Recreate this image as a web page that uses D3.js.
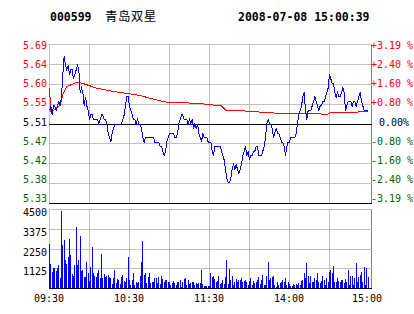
<!DOCTYPE html>
<html>
<head>
<meta charset="utf-8">
<script src="https://cdn.jsdelivr.net/npm/d3@7"></script>
<style>
  body { margin: 0; background: #fff; }
  svg { display: block; }
  text { font-family: "DejaVu Sans Mono", monospace; font-size: 10px; }
</style>
</head>
<body>
<svg id="chart"></svg>
<script>
// header
const stockCode = "000599";
const stockName = "青岛双星";
const stamp = "2008-07-08 15:00:39";

// axis labels
const prevClose = 5.51;
const pctStep = 0.008;
const priceLabels = ["5.69", "5.64", "5.60", "5.55", "5.51", "5.47", "5.42", "5.38", "5.33"];
const pctLabels = ["+3.19 %", "+2.40 %", "+1.60 %", "+0.80 %", "0.00%", "-0.80 %", "-1.60 %", "-2.40 %", "-3.19 %"];
const volTicks = [4500, 3375, 2250, 1125];
const timeMinutes = [0, 60, 120, 180, 240];
const timeLabels = ["09:30", "10:30", "11:30", "14:00", "15:00"];

// minute prices, 09:30 .. 15:00
const prices = [
  5.54, 5.55, 5.53, 5.55, 5.55, 5.54, 5.55, 5.56, 5.55, 5.57,
  5.62, 5.66, 5.64, 5.63, 5.64, 5.62, 5.63, 5.63, 5.61, 5.62,
  5.63, 5.64, 5.63, 5.58, 5.59, 5.58, 5.55, 5.57, 5.55, 5.54,
  5.52, 5.53, 5.53, 5.52, 5.52, 5.52, 5.52, 5.51, 5.52, 5.53,
  5.53, 5.52, 5.52, 5.51, 5.49, 5.48, 5.47, 5.49, 5.50, 5.51,
  5.51, 5.51, 5.51, 5.51, 5.51, 5.52, 5.53, 5.55, 5.57, 5.57,
  5.55, 5.54, 5.53, 5.52, 5.52, 5.51, 5.52, 5.51, 5.51, 5.50,
  5.48, 5.47, 5.48, 5.48, 5.48, 5.48, 5.48, 5.48, 5.48, 5.47,
  5.47, 5.47, 5.47, 5.46, 5.46, 5.45, 5.44, 5.45, 5.47, 5.48,
  5.49, 5.49, 5.49, 5.49, 5.48, 5.48, 5.49, 5.51, 5.52, 5.53,
  5.53, 5.52, 5.52, 5.52, 5.51, 5.52, 5.51, 5.52, 5.50, 5.51,
  5.50, 5.51, 5.49, 5.48, 5.47, 5.49, 5.48, 5.48, 5.48, 5.47,
  5.47, 5.47, 5.45, 5.44, 5.46, 5.46, 5.46, 5.46, 5.46, 5.45,
  5.44, 5.43, 5.41, 5.39, 5.38, 5.38, 5.39, 5.41, 5.42, 5.41,
  5.42, 5.41, 5.40, 5.41, 5.42, 5.44, 5.45, 5.46, 5.44, 5.45,
  5.43, 5.44, 5.44, 5.45, 5.45, 5.46, 5.46, 5.44, 5.44, 5.44,
  5.45, 5.46, 5.48, 5.51, 5.52, 5.51, 5.51, 5.50, 5.48, 5.49,
  5.50, 5.49, 5.49, 5.48, 5.47, 5.47, 5.46, 5.44, 5.46, 5.47,
  5.47, 5.48, 5.48, 5.48, 5.48, 5.49, 5.51, 5.53, 5.54, 5.55,
  5.57, 5.58, 5.54, 5.52, 5.54, 5.54, 5.54, 5.55, 5.56, 5.57,
  5.56, 5.55, 5.54, 5.55, 5.55, 5.56, 5.56, 5.57, 5.58, 5.59,
  5.62, 5.61, 5.60, 5.60, 5.58, 5.57, 5.58, 5.57, 5.57, 5.58,
  5.59, 5.58, 5.54, 5.55, 5.56, 5.56, 5.56, 5.55, 5.56, 5.56,
  5.55, 5.56, 5.57, 5.58, 5.56, 5.55, 5.54, 5.54, 5.54, 5.54
];

// average price line, read at its turning points
const avgMinutes = [0, 1, 4, 8, 10, 13, 17, 21, 25, 36, 48, 58, 68, 82, 89, 111, 120, 129, 132, 141, 165, 176, 209, 211, 220, 239];
const avgPrices = [5.59, 5.538, 5.542, 5.552, 5.575, 5.593, 5.598, 5.603, 5.600, 5.589, 5.582, 5.578, 5.573, 5.562, 5.558, 5.556, 5.553, 5.550, 5.541, 5.540, 5.535, 5.533, 5.532, 5.535, 5.536, 5.537];

// minute volumes
const volumes = [
  2517, 1354, 934, 1163, 1163, 972, 1125, 1316, 553, 4367,
  2460, 2746, 1602, 1354, 1793, 2803, 1888, 782, 706, 1316,
  3452, 1316, 1602, 2937, 972, 1030, 648, 648, 1507, 839,
  400, 1220, 2307, 839, 706, 648, 839, 1030, 553, 1926,
  591, 782, 648, 706, 744, 648, 553, 229, 553, 1030,
  267, 515, 458, 229, 648, 744, 400, 362, 553, 1793,
  458, 172, 458, 839, 172, 362, 267, 362, 686, 1507,
  2650, 744, 839, 267, 648, 839, 267, 324, 362, 591,
  591, 267, 629, 210, 686, 515, 324, 458, 458, 324,
  362, 172, 267, 400, 267, 172, 362, 362, 458, 76,
  324, 515, 553, 172, 458, 210, 305, 324, 362, 172,
  305, 210, 267, 305, 1030, 210, 114, 114, 114, 114,
  114, 839, 648, 706, 515, 362, 400, 706, 210, 267,
  458, 210, 648, 1602, 210, 1087, 458, 667, 172, 324,
  515, 362, 458, 458, 591, 362, 400, 458, 324, 172,
  400, 553, 172, 400, 267, 362, 458, 648, 210, 458,
  744, 172, 172, 706, 1469, 458, 553, 648, 706, 172,
  76, 324, 172, 267, 362, 458, 324, 591, 172, 362,
  210, 114, 114, 210, 172, 210, 172, 267, 172, 400,
  458, 839, 591, 1411, 686, 267, 706, 324, 324, 591,
  458, 839, 324, 267, 400, 706, 458, 172, 591, 362,
  934, 1030, 839, 1240, 362, 324, 591, 400, 324, 458,
  458, 267, 515, 324, 1030, 172, 706, 686, 172, 553,
  1411, 324, 648, 744, 896, 324, 1220, 172, 1125, 648
];

const config = {
  width: 414,
  height: 314,
  left: 49,
  right: 371,
  priceTop: 44,
  priceBottom: 203,
  volTop: 209,
  volBottom: 288,
  labelTop: 49,
  labelBottom: 202
};

const px = v => Math.round(v) + 0.5;
const red = "#ff0000", green = "#006400", grid = "#c0c0c0";

const svg = d3.select("#chart")
  .attr("width", config.width)
  .attr("height", config.height);

const x = d3.scaleLinear().domain([0, 240]).range([config.left, config.left + 320]);
const step = prevClose * pctStep;
const yPrice = d3.scaleLinear()
  .domain([prevClose - 4 * step, prevClose + 4 * step])
  .range([config.priceBottom, config.priceTop]);
const yVol = d3.scaleLinear().domain([0, 4500]).range([config.volBottom, config.volTop]);
// the side labels sit on their own even spacing, a little off the grid rows
const yLabel = d3.scaleLinear().domain([0, 8]).range([config.labelTop, config.labelBottom]);

// header
svg.append("text").attr("x", 50).attr("y", 21)
  .style("font-size", "11.5px").style("font-weight", "bold").text(stockCode);
svg.append("text").attr("x", 105).attr("y", 21)
  .style("font-family", "'Noto Sans CJK SC', sans-serif").style("font-size", "12.5px")
  .style("letter-spacing", "0.4px").text(stockName);
svg.append("text").attr("x", 238).attr("y", 21)
  .style("font-size", "11.5px").style("font-weight", "bold").text(stamp);

const g = svg.append("g").style("shape-rendering", "crispEdges");

// price grid
const rows = priceLabels.map((lab, k) => ({ lab, pct: pctLabels[k], y: yPrice(prevClose + (4 - k) * step), k }));
const cols = d3.range(30, 240, 30);

function vGrid(y0, y1) {
  g.selectAll(null).data(cols).enter().append("line")
    .attr("x1", d => px(x(d))).attr("x2", d => px(x(d)))
    .attr("y1", y0).attr("y2", y1)
    .attr("stroke", grid);
  g.append("line").attr("x1", px(config.left)).attr("x2", px(config.left))
    .attr("y1", y0).attr("y2", y1).attr("stroke", grid);
  g.append("line").attr("x1", px(config.right)).attr("x2", px(config.right))
    .attr("y1", y0).attr("y2", y1).attr("stroke", "#808080");
}

vGrid(px(config.priceTop), px(config.priceBottom));
g.selectAll(null).data(rows).enter().append("line")
  .attr("x1", config.left).attr("x2", config.right + 1)
  .attr("y1", d => px(d.y)).attr("y2", d => px(d.y))
  .attr("stroke", d => (d.k === 4 || d.k === 8 ? "#000" : grid));

// volume grid
vGrid(px(config.volTop), px(config.volBottom));
const vrows = volTicks.map(v => yVol(v)).concat([yVol(0)]);
g.selectAll(null).data(vrows).enter().append("line")
  .attr("x1", config.left).attr("x2", config.right + 1)
  .attr("y1", d => px(d)).attr("y2", d => px(d))
  .attr("stroke", (d, i) => (i === vrows.length - 1 ? "#000" : grid));

// volume bars
g.selectAll(null).data(volumes).enter().append("rect")
  .attr("x", (d, i) => Math.round(x(i)))
  .attr("y", d => Math.round(yVol(d)))
  .attr("width", 1)
  .attr("height", d => Math.round(yVol(0)) - Math.round(yVol(d)))
  .attr("fill", "#0000ff");

// average line, then price line
const avg = avgMinutes.map((m, i) => [m, avgPrices[i]]);
g.append("path").datum(avg)
  .attr("d", d3.line().x(d => x(d[0]) + 0.5).y(d => yPrice(d[1]) + 0.5))
  .attr("fill", "none").attr("stroke", red).attr("stroke-width", 1);

g.append("path").datum(prices)
  .attr("d", d3.line().x((d, i) => x(i) + 0.5).y(d => yPrice(d) + 0.5))
  .attr("fill", "none").attr("stroke", "#0000ff").attr("stroke-width", 1);

// labels
const colorOf = k => (k < 4 ? red : k === 4 ? "#000" : green);
svg.selectAll(null).data(rows).enter().append("text")
  .attr("x", 47).attr("y", d => Math.round(yLabel(d.k)))
  .attr("text-anchor", "end").attr("fill", d => colorOf(d.k))
  .text(d => d.lab);
svg.selectAll(null).data(rows).enter().append("text")
  .attr("x", d => (d.k === 4 ? 379 : 371)).attr("y", d => Math.round(yLabel(d.k)))
  .attr("fill", d => colorOf(d.k))
  .text(d => d.pct);
svg.selectAll(null).data(volTicks).enter().append("text")
  .attr("x", 47).attr("y", d => Math.round(yVol(d)) + 7)
  .attr("text-anchor", "end").attr("fill", "#000")
  .text(d => d);
svg.selectAll(null).data(timeMinutes).enter().append("text")
  .attr("x", d => x(d) - (d === 240 ? 2 : 0)).attr("y", 302)
  .attr("text-anchor", "middle").attr("fill", "#000")
  .text((d, i) => timeLabels[i]);
</script>
</body>
</html>
